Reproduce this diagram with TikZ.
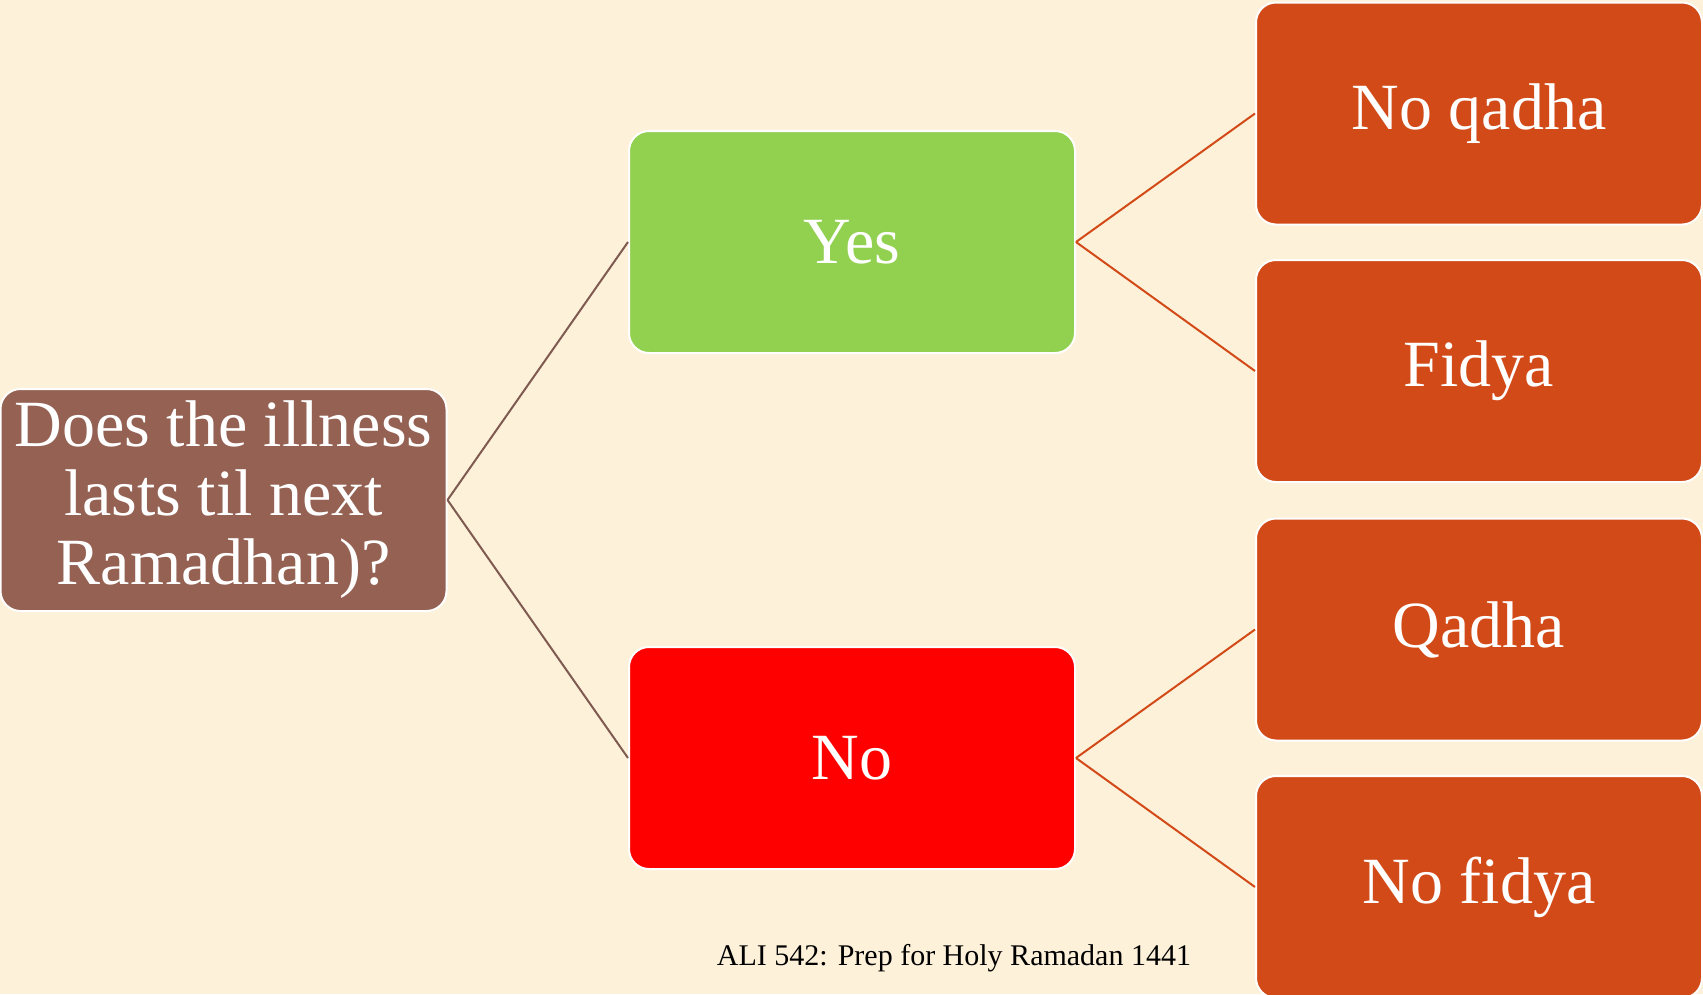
\documentclass[tikz,border=0pt]{standalone}
\usepackage{fontspec}
\setmainfont{Liberation Serif}
\definecolor{bgcol}{HTML}{FEF1DA}
\definecolor{rootcol}{HTML}{946153}
\definecolor{rootline}{HTML}{7E5A50}
\definecolor{yescol}{HTML}{92D050}
\definecolor{nocol}{HTML}{FF0000}
\definecolor{leafcol}{HTML}{D24A17}
\begin{document}
\begin{tikzpicture}[x=1pt,y=-1pt,
  boxbase/.style={rounded corners=20pt, draw=white, line width=2pt,
    minimum width=446pt, minimum height=222pt, inner sep=0pt,
    text=white, align=center, font=\fontsize{66}{69}\selectfont},
  rootbox/.style={boxbase, fill=rootcol},
  yesbox/.style={boxbase, fill=yescol},
  nobox/.style={boxbase, fill=nocol},
  leafbox/.style={boxbase, fill=leafcol},
  rootlink/.style={draw=rootline, line width=2pt},
  leaflink/.style={draw=leafcol, line width=2pt}]
\useasboundingbox (0,0) rectangle (1703,994);
\clip (0,0) rectangle (1703,994);
\fill[bgcol] (0,0) rectangle (1703,994);

\node[rootbox] (root) at (223.5,500) {Does the illness\\lasts til next\\Ramadhan)?};
\node[yesbox] (yes) at (852,242) {Yes};
\node[nobox] (no) at (852,758) {No};
\node[leafbox] (l1) at (1479,113.5) {No qadha};
\node[leafbox] (l2) at (1479,371) {Fidya};
\node[leafbox] (l3) at (1479,629.5) {Qadha};
\node[leafbox] (l4) at (1479,887) {No fidya};

\draw[rootlink] (root.east) -- (yes.west);
\draw[rootlink] (root.east) -- (no.west);
\draw[leaflink] (yes.east) -- (l1.west);
\draw[leaflink] (yes.east) -- (l2.west);
\draw[leaflink] (no.east) -- (l3.west);
\draw[leaflink] (no.east) -- (l4.west);

\node[font=\fontsize{30}{34}\selectfont, text=black, anchor=base] (foot) at (954,965) {ALI 542: Prep for Holy Ramadan 1441};
\end{tikzpicture}
\end{document}
